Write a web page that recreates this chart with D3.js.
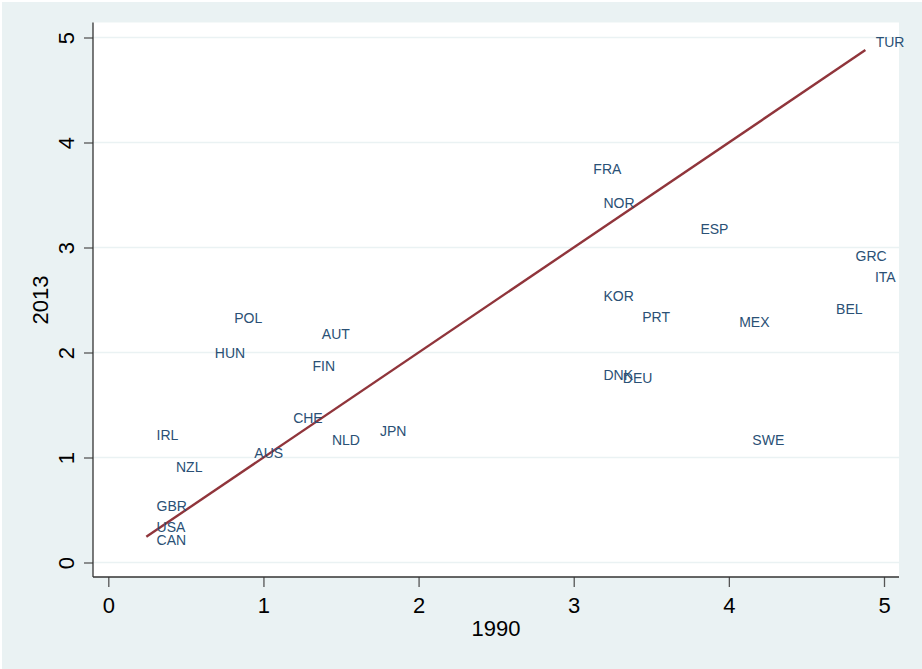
<!DOCTYPE html>
<html>
<head>
<meta charset="utf-8">
<script src="https://cdn.jsdelivr.net/npm/d3@7/dist/d3.min.js"></script>
<style>
  html, body { margin: 0; padding: 0; background: #ffffff; }
  svg { display: block; font-family: "Liberation Sans", Arial, sans-serif; }
</style>
</head>
<body>
<svg id="chart" width="922" height="669"></svg>
<script>
// Data (x = 1990, y = 2013)
const countries = ["TUR","FRA","NOR","ESP","GRC","ITA","KOR","PRT","MEX","BEL","DNK","DEU","SWE",
                   "POL","AUT","HUN","FIN","CHE","IRL","NLD","JPN","AUS","NZL","GBR","USA","CAN"];
const values1990 = [4.88,3.06,3.125,3.75,4.75,4.875,3.125,3.375,4.0,4.625,3.125,3.25,4.085,
                    0.745,1.31,0.62,1.25,1.125,0.245,1.375,1.685,0.875,0.37,0.245,0.245,0.245];
const values2013 = [4.96,3.75,3.425,3.175,2.92,2.715,2.54,2.335,2.295,2.415,1.79,1.755,1.165,
                    2.33,2.175,2.0,1.87,1.375,1.21,1.165,1.25,1.04,0.91,0.54,0.335,0.215];
const xTicks = [0,1,2,3,4,5];
const yTicks = [0,1,2,3,4,5];
const xTitle = "1990";
const yTitle = "2013";

const W = 922, H = 669;
const plot = {left: 93, right: 899, top: 22.5, bottom: 577};

const svg = d3.select("#chart");

// graph region background
svg.append("rect").attr("x", 2).attr("y", 2).attr("width", W - 2).attr("height", H - 2)
  .attr("fill", "#eaf2f3");
// plot region
svg.append("rect").attr("x", plot.left).attr("y", plot.top)
  .attr("width", plot.right - plot.left).attr("height", plot.bottom - plot.top)
  .attr("fill", "#ffffff");

const x = d3.scaleLinear().domain([0, 5]).range([108.3, 884]);
const y = d3.scaleLinear().domain([0, 5]).range([562.5, 37.5]);

// gridlines
svg.append("g").selectAll("line").data(yTicks).join("line")
  .attr("x1", plot.left).attr("x2", plot.right)
  .attr("y1", d => y(d)).attr("y2", d => y(d))
  .attr("stroke", "#eaf2f3").attr("stroke-width", 1.6);

// axes
const yAxis = d3.axisLeft(y).tickValues(yTicks).tickSize(9).tickPadding(0).tickFormat(d3.format("d"));
const gy = svg.append("g").attr("transform", `translate(${plot.left},0)`).call(yAxis);
gy.select(".domain").remove();
gy.append("line").attr("x1", 0).attr("x2", 0).attr("y1", plot.top).attr("y2", plot.bottom)
  .attr("stroke", "#333").attr("stroke-width", 1.3);
gy.selectAll(".tick line").attr("stroke", "#555").attr("stroke-width", 1.3);
gy.selectAll(".tick text")
  .attr("x", 0).attr("dy", null)
  .attr("transform", "translate(-27,0) rotate(-90)")
  .attr("text-anchor", "middle")
  .attr("dominant-baseline", "central")
  .attr("font-size", 22).attr("fill", "#000")
  .attr("font-family", "Liberation Sans, Arial, sans-serif");

const xAxis = d3.axisBottom(x).tickValues(xTicks).tickSize(10).tickPadding(0).tickFormat(d3.format("d"));
const gx = svg.append("g").attr("transform", `translate(0,${plot.bottom})`).call(xAxis);
gx.select(".domain").remove();
gx.append("line").attr("x1", plot.left).attr("x2", plot.right).attr("y1", 0).attr("y2", 0)
  .attr("stroke", "#333").attr("stroke-width", 1.3);
gx.selectAll(".tick line").attr("stroke", "#555").attr("stroke-width", 1.3);
gx.selectAll(".tick text")
  .attr("y", 28).attr("dy", null)
  .attr("dominant-baseline", "central")
  .attr("font-size", 22).attr("fill", "#000")
  .attr("font-family", "Liberation Sans, Arial, sans-serif");

// axis titles
svg.append("text").attr("x", (plot.left + plot.right) / 2).attr("y", 628)
  .attr("text-anchor", "middle").attr("dominant-baseline", "central")
  .attr("font-size", 22).attr("fill", "#000").text(xTitle);
svg.append("text").attr("transform", "translate(40,300) rotate(-90)")
  .attr("text-anchor", "middle").attr("dominant-baseline", "central")
  .attr("font-size", 22).attr("fill", "#000").text(yTitle);

// 45-degree line over the range of x
const ext = d3.extent(values1990);
svg.append("path")
  .datum(ext.map(v => [v, v]))
  .attr("d", d3.line().x(d => x(d[0])).y(d => y(d[1])))
  .attr("stroke", "#90353b").attr("stroke-width", 2.4).attr("fill", "none");

// marker labels
const pts = countries.map((c, i) => ({c, x: values1990[i], y: values2013[i]}));
svg.append("g").selectAll("text").data(pts).join("text")
  .attr("x", d => x(d.x) + 10.3)
  .attr("y", d => y(d.y))
  .attr("dominant-baseline", "central")
  .attr("font-size", 14)
  .attr("fill", "#2a5075")
  .text(d => d.c);
</script>
</body>
</html>
